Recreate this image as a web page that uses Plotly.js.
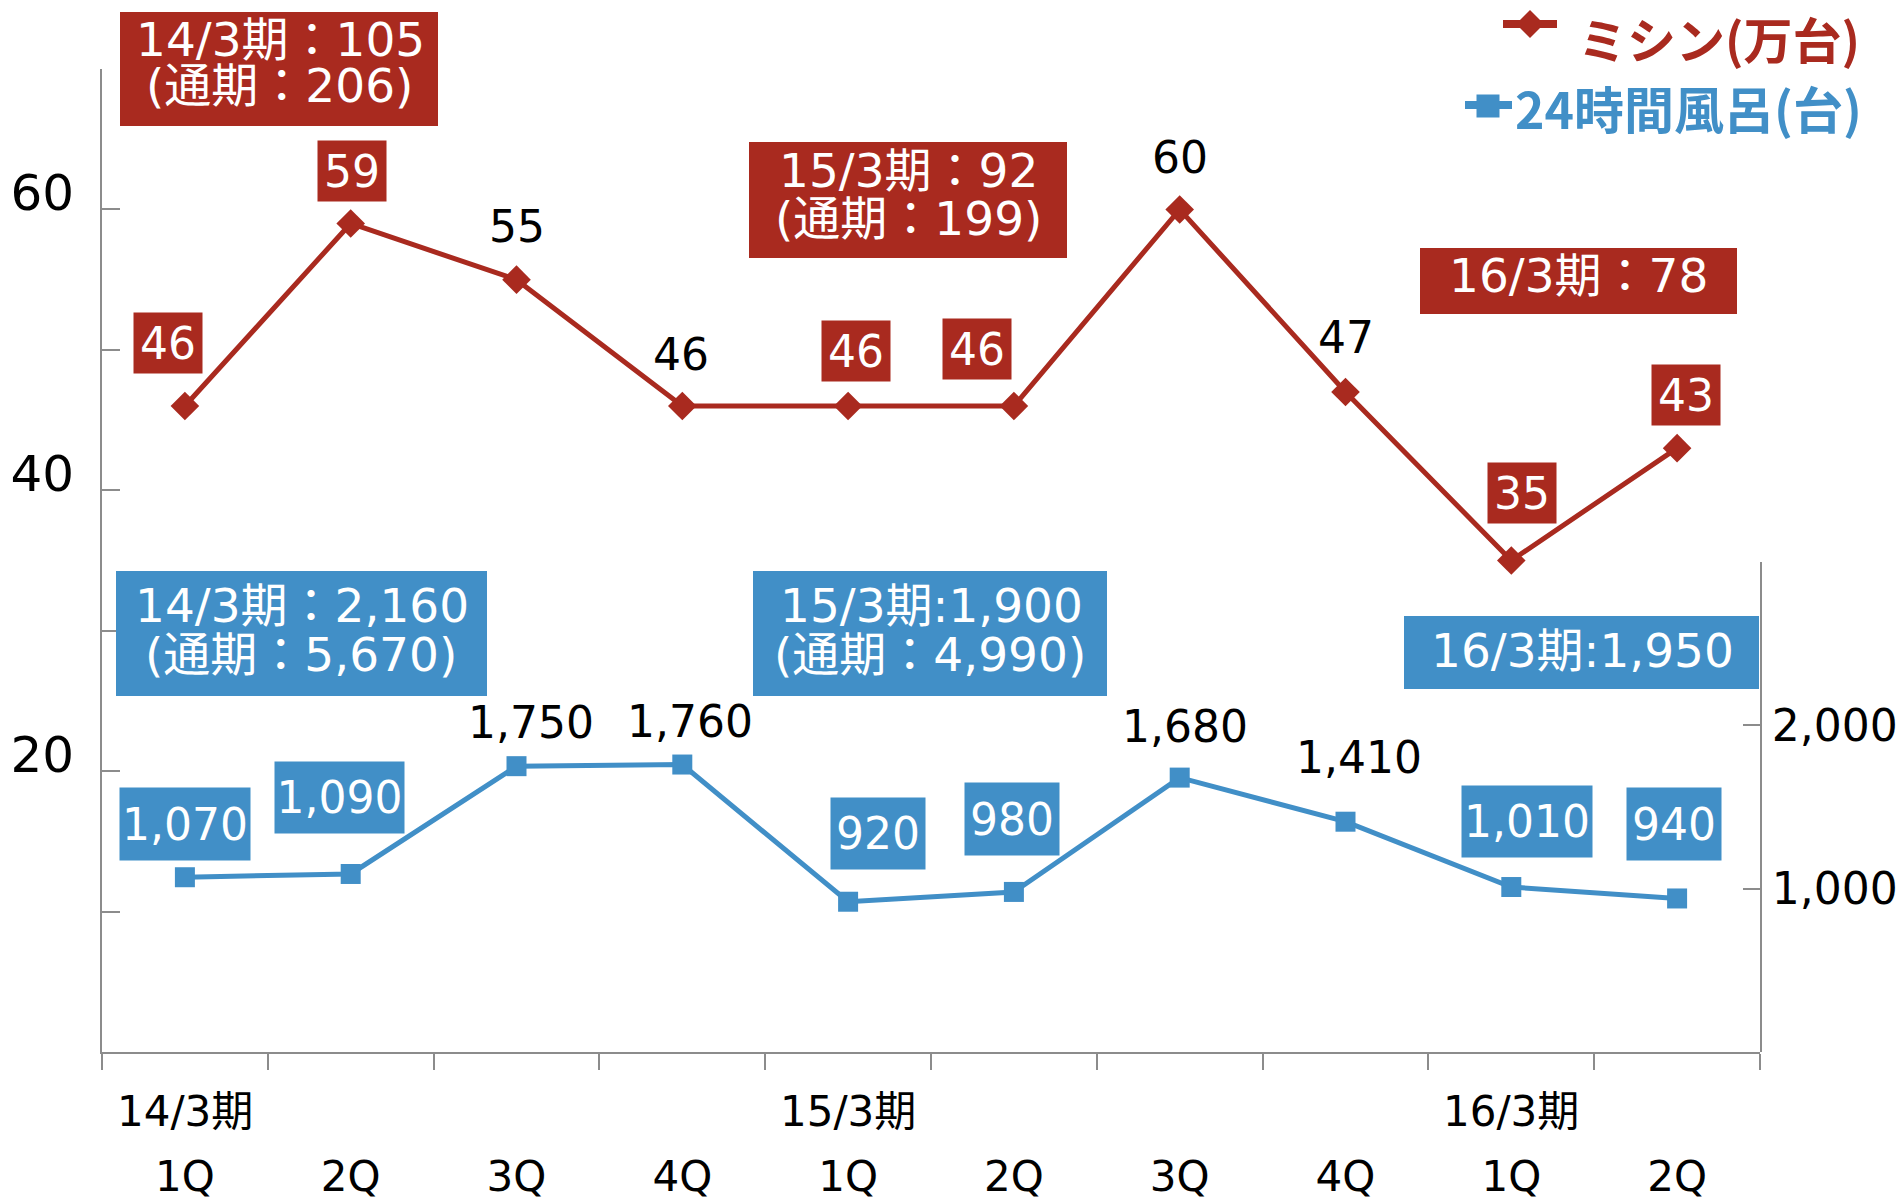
<!DOCTYPE html>
<html>
<head>
<meta charset="utf-8">
<script src="https://cdn.plot.ly/plotly-3.0.1.min.js"></script>
<style>
html,body{margin:0;padding:0;background:#ffffff;}
#chart{width:1901px;height:1203px;}
</style>
</head>
<body>
<div id="chart"></div>
<script>
// ---------------- data ----------------
const periods = ['14/3期','14/3期','14/3期','14/3期','15/3期','15/3期','15/3期','15/3期','16/3期','16/3期'];
const quarters = ['1Q','2Q','3Q','4Q','1Q','2Q','3Q','4Q','1Q','2Q'];
const sewingMachines = [46, 59, 55, 46, 46, 46, 60, 47, 35, 43];          // 万台
const bathUnits = [1070, 1090, 1750, 1760, 920, 980, 1680, 1410, 1010, 940]; // 台
const sewingLabelBoxed = [true, true, false, false, true, true, false, false, true, true];
const bathLabelBoxed = [true, true, false, false, true, true, false, false, true, true];
const seriesNames = ['ミシン(万台)', '24時間風呂(台)'];
const periodLabels = ['14/3期', '15/3期', '16/3期'];
const sewingSummary14 = ['14/3期：105', '(通期：206)'];
const sewingSummary15 = ['15/3期：92', '(通期：199)'];
const sewingSummary16 = ['16/3期：78'];
const bathSummary14 = ['14/3期：2,160', '(通期：5,670)'];
const bathSummary15 = ['15/3期:1,900', '(通期：4,990)'];
const bathSummary16 = ['16/3期:1,950'];
const leftTickVals = [0, 10, 20, 30, 40, 50, 60, 70];
const leftTickText = ['', '', '20', '', '40', '', '60', ''];
const rightTickVals = [1000, 2000];
const rightTickText = ['1,000', '2,000'];

// ---------------- layout helpers ----------------
const W = 1901, H = 1203;
const L = 102, R = 1760, T = 69, B = 1052;
const px = x => (x - L) / (R - L);
const py = y => (B - y) / (B - T);
const RED = '#A92A1F', BLUE = '#418FC7', GRAY = '#8C8C8C';
const LATIN = 'DejaVu Sans, Noto Sans CJK JP, sans-serif';
const CJK = 'Noto Sans CJK JP, sans-serif';

const cats = periods.map((p, i) => p + ' ' + quarters[i]);

const traces = [
  {
    x: cats, y: sewingMachines, type: 'scatter', mode: 'lines+markers',
    name: seriesNames[0], xaxis: 'x', yaxis: 'y',
    line: {color: RED, width: 5},
    marker: {symbol: 'diamond', size: 22, color: RED},
    showlegend: false, cliponaxis: false
  },
  {
    x: cats, y: bathUnits, type: 'scatter', mode: 'lines+markers',
    name: seriesNames[1], xaxis: 'x', yaxis: 'y2',
    line: {color: BLUE, width: 5},
    marker: {symbol: 'square', size: 20, color: BLUE},
    showlegend: false, cliponaxis: false
  }
];

// label offsets (pixels) and box sizes
const redShift = [[-17,61],[1,50],[0,53],[-1,52],[8,53],[-37,55],[0,52],[0,54],[11,66],[9,51]];
const blueShift = [[0,53],[-11,76],[14,44],[8,43],[30,68],[-2,73],[5,51],[13,64],[16,66],[-3,74]];
const blueBox = [[130,72],[129,71],null,null,[94,71],[94,72],null,null,[130,71],[94,72]];

const annotations = [];
sewingMachines.forEach((v, i) => {
  const boxed = sewingLabelBoxed[i];
  const a = {
    x: cats[i], y: v, xref: 'x', yref: 'y', text: String(v), showarrow: false,
    xshift: redShift[i][0], yshift: redShift[i][1] + (boxed ? 2 : 0),
    font: {family: LATIN, size: 44, color: boxed ? '#ffffff' : '#000000'},
    borderpad: 0
  };
  if (boxed) { a.bgcolor = RED; a.width = 68; a.height = 60; }
  annotations.push(a);
});
bathUnits.forEach((v, i) => {
  const boxed = bathLabelBoxed[i];
  const a = {
    x: cats[i], y: v, xref: 'x', yref: 'y2', text: v.toLocaleString('en-US'), showarrow: false,
    xshift: blueShift[i][0], yshift: blueShift[i][1],
    font: {family: LATIN, size: 44, color: boxed ? '#ffffff' : '#000000'},
    borderpad: 0
  };
  if (boxed) { a.bgcolor = BLUE; a.width = blueBox[i][0]; a.height = blueBox[i][1]; }
  annotations.push(a);
});

// period summary boxes
const shapes = [];
function summary(lines, box, centers, color) {
  shapes.push({type: 'rect', xref: 'paper', yref: 'paper',
    x0: px(box[0]), x1: px(box[1]), y0: py(box[3]), y1: py(box[2]),
    fillcolor: color, line: {width: 0}, layer: 'above'});
  lines.forEach((t, k) => {
    annotations.push({xref: 'paper', yref: 'paper', x: px(centers[k][0]), y: py(centers[k][1]),
      xanchor: 'center', yanchor: 'middle', text: t, showarrow: false,
      font: {family: LATIN, size: 47, color: '#ffffff'}});
  });
}
summary(sewingSummary14, [120, 438, 12, 126], [[280, 40], [279, 85]], RED);
summary(sewingSummary15, [749, 1067, 142, 258], [[908, 170], [908, 218]], RED);
summary(sewingSummary16, [1420, 1737, 248, 314], [[1578, 276]], RED);
summary(bathSummary14, [116, 487, 571, 696], [[302, 605], [301, 654]], BLUE);
summary(bathSummary15, [753, 1107, 571, 696], [[931, 605], [930, 654]], BLUE);
summary(bathSummary16, [1404, 1759, 616, 689], [[1582, 650]], BLUE);

// period (fiscal year) labels under the first quarter of each year
periodLabels.forEach(p => {
  const idx = periods.indexOf(p);
  annotations.push({x: cats[idx], xref: 'x', y: 0, yref: 'paper', yshift: -59,
    xanchor: 'center', yanchor: 'middle', text: p, showarrow: false,
    font: {family: LATIN, size: 42, color: '#000000'}});
});

// legend (drawn manually)
shapes.push({type: 'line', xref: 'paper', yref: 'paper', x0: px(1503), x1: px(1557), y0: py(24), y1: py(24),
  line: {color: RED, width: 8}});
shapes.push({type: 'path', xref: 'paper', yref: 'paper', xsizemode: 'pixel', ysizemode: 'pixel',
  xanchor: px(1530), yanchor: py(24), path: 'M0,14L14,0L0,-14L-14,0Z', fillcolor: RED, line: {width: 0}});
shapes.push({type: 'line', xref: 'paper', yref: 'paper', x0: px(1465), x1: px(1512), y0: py(105), y1: py(105),
  line: {color: BLUE, width: 8}});
shapes.push({type: 'path', xref: 'paper', yref: 'paper', xsizemode: 'pixel', ysizemode: 'pixel',
  xanchor: px(1488), yanchor: py(106), path: 'M-11.5,-11.5L11.5,-11.5L11.5,11.5L-11.5,11.5Z', fillcolor: BLUE, line: {width: 0}});
annotations.push({xref: 'paper', yref: 'paper', x: px(1576), y: py(0), xanchor: 'left', yanchor: 'top',
  text: '<b>' + seriesNames[0] + '</b>', showarrow: false, font: {family: CJK, size: 49, color: RED}});
annotations.push({xref: 'paper', yref: 'paper', x: px(1513), y: py(107), xanchor: 'left', yanchor: 'middle',
  text: '<b>' + seriesNames[1] + '</b>', showarrow: false, font: {family: CJK, size: 50, color: BLUE}});

const layout = {
  width: W, height: H,
  margin: {l: L, r: W - R, t: T, b: H - B, pad: 0},
  paper_bgcolor: '#ffffff', plot_bgcolor: 'rgba(0,0,0,0)',
  showlegend: false,
  xaxis: {
    type: 'category', categoryorder: 'array', categoryarray: cats, range: [-0.5, 9.5],
    tickmode: 'array', tickvals: cats, ticktext: quarters, tickson: 'boundaries',
    ticks: 'outside', ticklen: 16, tickwidth: 2, tickcolor: GRAY,
    showline: true, linecolor: GRAY, linewidth: 2, showgrid: false, zeroline: false,
    tickfont: {family: LATIN, size: 42, color: '#000000'}, ticklabelstandoff: 87,
    fixedrange: true
  },
  yaxis: {
    domain: [0, 1], range: [0, 70], tickmode: 'array', tickvals: leftTickVals, ticktext: leftTickText,
    ticks: 'inside', ticklen: 18, tickwidth: 2, tickcolor: GRAY,
    showline: true, linecolor: GRAY, linewidth: 2, showgrid: false, zeroline: false,
    tickfont: {family: LATIN, size: 50, color: '#000000'}, ticklabelstandoff: 16, ticklabelshift: -17
  },
  yaxis2: {
    domain: [0, (B - 562) / (B - T)], range: [0, 3000], anchor: 'x', side: 'right',
    tickmode: 'array', tickvals: rightTickVals, ticktext: rightTickText,
    ticks: 'inside', ticklen: 17, tickwidth: 2, tickcolor: GRAY,
    showline: true, linecolor: GRAY, linewidth: 2, showgrid: false, zeroline: false,
    tickfont: {family: LATIN, size: 44, color: '#000000'}, ticklabelstandoff: 1
  },
  annotations: annotations,
  shapes: shapes
};

Plotly.newPlot('chart', traces, layout, {displayModeBar: false, staticPlot: true});
</script>
</body>
</html>
